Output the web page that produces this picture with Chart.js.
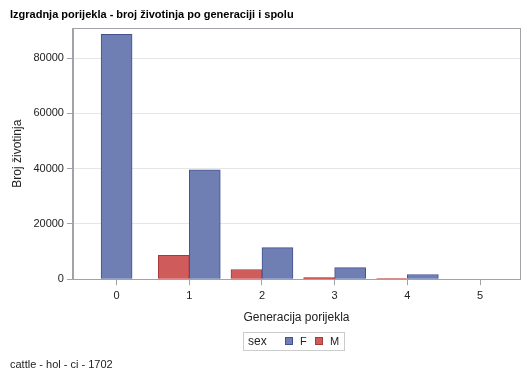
<!DOCTYPE html>
<html>
<head>
<meta charset="utf-8">
<script src="https://cdn.jsdelivr.net/npm/chart.js@4"></script>
<style>
  html, body { margin: 0; padding: 0; background: #fff; }
  #wrap { width: 529px; height: 378px; }
</style>
</head>
<body>
<div id="wrap"><canvas id="chart"></canvas></div>
<script>
// generations and animal counts per sex
const generations = [0, 1, 2, 3, 4, 5];
const femaleCounts = [88600, 39600, 11400, 4200, 1700, null];
const maleCounts = [null, 8650, 3500, 600, 250, null];
const yTicks = [0, 20000, 40000, 60000, 80000];

const FONT = "'Liberation Sans', Arial, sans-serif";

// grey frame round the plot area and the boxed legend under it
const framePlugin = {
  id: 'frame',
  afterDraw(chart) {
    const ctx = chart.ctx;
    const a = chart.chartArea;
    ctx.save();
    ctx.strokeStyle = '#a0a4a8';
    ctx.lineWidth = 1;
    ctx.strokeRect(Math.round(a.left) + 0.5, Math.round(a.top) + 0.5,
      Math.round(a.right - a.left), Math.round(a.bottom - a.top));

    // legend
    const lx = 243.5, ly = 332.5;
    ctx.strokeStyle = '#cccccc';
    ctx.strokeRect(lx, ly, 101, 18);
    ctx.font = '12px ' + FONT;
    ctx.fillStyle = '#222';
    ctx.textBaseline = 'middle';
    ctx.fillText('sex', 248, 342);
    const items = [
      { label: 'F', ds: chart.data.datasets[1], x: 285 },
      { label: 'M', ds: chart.data.datasets[0], x: 315 }
    ];
    items.forEach(it => {
      ctx.fillStyle = it.ds.backgroundColor;
      ctx.fillRect(it.x, 337, 8, 8);
      ctx.strokeStyle = it.ds.borderColor;
      ctx.strokeRect(it.x + 0.5, 337.5, 7, 7);
      ctx.fillStyle = '#222';
      ctx.font = '11px ' + FONT;
      ctx.fillText(it.label, it.x + 15, 342);
    });
    ctx.restore();
  }
};

new Chart(document.getElementById('chart'), {
  type: 'bar',
  data: {
    labels: generations,
    datasets: [
      {
        label: 'M',
        data: maleCounts,
        backgroundColor: '#d05b5b',
        borderColor: '#a53a3a',
        borderWidth: 1
      },
      {
        label: 'F',
        data: femaleCounts,
        backgroundColor: '#6f7eb3',
        borderColor: '#42528f',
        borderWidth: 1
      }
    ]
  },
  options: {
    responsive: true,
    maintainAspectRatio: false,
    animation: false,
    devicePixelRatio: 1,
    skipNull: true,
    barThickness: 31,
    layout: { padding: { left: 10, right: 9, top: 0, bottom: 6 } },
    plugins: {
      legend: { display: false },
      tooltip: { enabled: false },
      title: {
        display: true,
        text: 'Izgradnja porijekla - broj životinja po generaciji i spolu',
        align: 'start',
        color: '#000',
        font: { family: FONT, size: 11, weight: 'bold' },
        padding: { top: 8, bottom: 7 }
      },
      subtitle: {
        display: true,
        position: 'bottom',
        text: 'cattle - hol - ci - 1702',
        align: 'start',
        color: '#222',
        font: { family: FONT, size: 11 },
        padding: { top: 34, bottom: 0 }
      }
    },
    scales: {
      x: {
        type: 'linear',
        offset: false,
        min: -0.6,
        max: 5.55,
        afterBuildTicks: scale => { scale.ticks = generations.map(v => ({ value: v })); },
        grid: {
          offset: false,
          drawOnChartArea: false,
          color: '#a0a4a8',
          tickLength: 6
        },
        border: { color: '#a0a4a8' },
        ticks: {
          color: '#222',
          font: { family: FONT, size: 11 },
          padding: 4,
          maxRotation: 0
        },
        title: {
          display: true,
          text: 'Generacija porijekla',
          color: '#222',
          font: { family: FONT, size: 12 },
          padding: { top: 4, bottom: 0 }
        }
      },
      y: {
        min: 0,
        max: 90800,
        afterBuildTicks: scale => { scale.ticks = yTicks.map(v => ({ value: v })); },
        grid: {
          color: '#e6e6e6',
          tickColor: '#a0a4a8',
          tickLength: 6
        },
        border: { color: '#a0a4a8' },
        ticks: {
          color: '#222',
          font: { family: FONT, size: 11 },
          padding: 3,
          callback: v => String(v)
        },
        title: {
          display: true,
          text: 'Broj životinja',
          color: '#222',
          font: { family: FONT, size: 12 },
          padding: { top: 0, bottom: 6 }
        }
      }
    }
  },
  plugins: [framePlugin]
});
</script>
</body>
</html>
